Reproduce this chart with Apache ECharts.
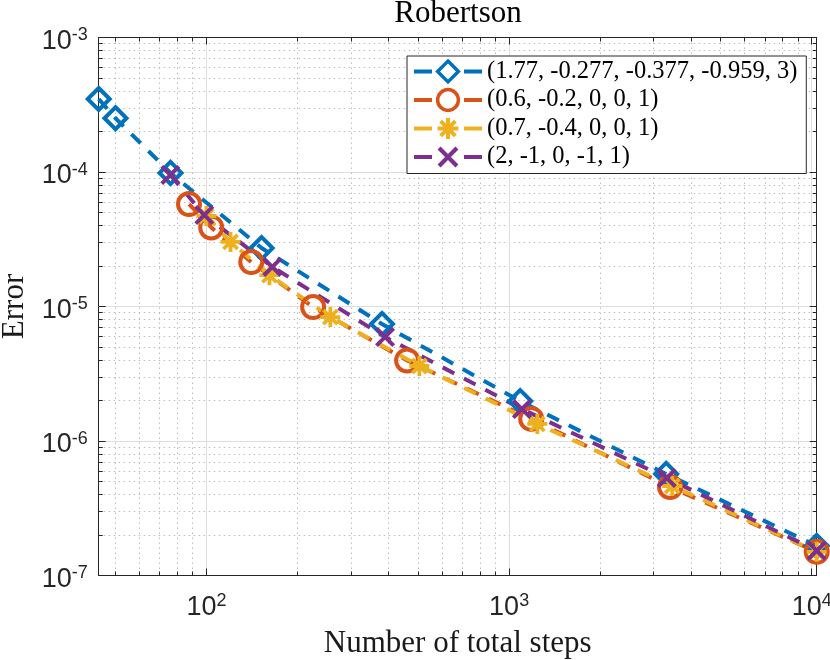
<!DOCTYPE html>
<html>
<head>
<meta charset="utf-8">
<title>Robertson</title>
<script src="https://cdn.jsdelivr.net/npm/echarts@6/dist/echarts.min.js"></script>
<style>
  html, body { margin: 0; padding: 0; background: #fff; }
  #main { width: 830px; height: 660px; }
</style>
</head>
<body>
<div id="main"></div>
<script>
// data
var stepsA = [44, 50, 76, 152, 380, 1088, 3304, 10390];
var errA   = [3.49e-4, 2.51e-4, 9.84e-5, 2.72e-5, 7.41e-6, 1.98e-6, 5.69e-7, 1.66e-7];
var stepsB = [87.5, 103.6, 140.5, 225, 460, 1183, 3404, 10390];
var errB   = [5.78e-5, 3.87e-5, 2.14e-5, 9.91e-6, 3.97e-6, 1.46e-6, 4.55e-7, 1.50e-7];
var stepsC = [99.8, 120, 161.4, 256.5, 505, 1239, 3460, 10390];
var errC   = [4.71e-5, 3.02e-5, 1.71e-5, 8.35e-6, 3.61e-6, 1.34e-6, 4.63e-7, 1.50e-7];
var stepsD = [75.9, 98.3, 164.9, 389, 1102, 3318, 10390];
var errD   = [9.5e-5, 4.79e-5, 1.97e-5, 5.93e-6, 1.73e-6, 5.31e-7, 1.53e-7];

var names = ['(1.77, -0.277, -0.377, -0.959, 3)', '(0.6, -0.2, 0, 0, 1)',
             '(0.7, -0.4, 0, 0, 1)', '(2, -1, 0, -1, 1)'];
var xMajor = [100, 1000, 10000];
var yMajor = [1e-7, 1e-6, 1e-5, 1e-4, 1e-3];
var xRange = [44, 10390];
var yRange = [1e-7, 1e-3];

(function(){
    var myChart = echarts.init(document.getElementById('main'));

    var colors = ['#0072BD', '#D95319', '#EDB120', '#7E2F8E'];
    var serif = "'Liberation Serif', 'Times New Roman', serif";
    var sans = "'Liberation Sans', Arial, sans-serif";
    var axisColor = '#262626';

    // MATLAB style asterisk and cross markers
    var asterisk = 'path://M8.1,0H11.9V20H8.1Z M0,8.1H20V11.9H0Z' +
        ' M4.27,1.6L18.4,15.73L15.73,18.4L1.6,4.27Z' +
        ' M15.73,1.6L18.4,4.27L4.27,18.4L1.6,15.73Z';
    var cross = 'path://M2.91,0.09L19.91,17.09L17.09,19.91L0.09,2.91Z' +
        ' M17.09,0.09L19.91,2.91L2.91,19.91L0.09,17.09Z';

    // minor ticks at 2..9 x 10^k inside the range
    function minorTicks(lo, hi){
        var out = [];
        for (var e = Math.floor(Math.log10(lo)); e < Math.ceil(Math.log10(hi)); e++) {
            for (var k = 2; k <= 9; k++) {
                var v = k * Math.pow(10, e);
                if (v > lo && v < hi) out.push(v);
            }
        }
        return out;
    }
    function pts(xs, ys){
        return xs.map(function(x, i){ return [x, ys[i]]; });
    }
    function powLabel(v){
        return '{b|10}{s|' + Math.round(Math.log10(v)) + '}';
    }
    var rich = {
        b: { fontFamily: sans, fontSize: 27, lineHeight: 30, color: axisColor },
        s: { fontFamily: sans, fontSize: 18, lineHeight: 14, verticalAlign: 'top', color: axisColor }
    };

    var xMinor = minorTicks(xRange[0], xRange[1]);
    var yMinor = minorTicks(yRange[0], yRange[1]);

    function xAxisDef(grid, pos, ticks, len, labels, split){
        return {
            type: 'log', gridIndex: grid, position: pos,
            min: xRange[0], max: xRange[1],
            axisLine: { show: grid === 0, onZero: false, lineStyle: { color: axisColor, width: 1 } },
            axisTick: { show: true, inside: true, length: len, customValues: ticks,
                        lineStyle: { color: axisColor, width: 1 } },
            axisLabel: labels ? { show: true, customValues: xMajor, formatter: powLabel, rich: rich, margin: 17 }
                              : { show: false },
            splitLine: split || { show: false },
            name: labels ? 'Number of total steps' : '',
            nameLocation: 'middle', nameGap: 53,
            nameTextStyle: { fontFamily: serif, fontSize: 31, color: '#1a1a1a' }
        };
    }
    function yAxisDef(grid, pos, ticks, len, labels, split){
        return {
            type: 'log', gridIndex: grid, position: pos,
            min: yRange[0], max: yRange[1],
            axisLine: { show: grid === 0, onZero: false, lineStyle: { color: axisColor, width: 1 } },
            axisTick: { show: true, inside: true, length: len, customValues: ticks,
                        lineStyle: { color: axisColor, width: 1 } },
            axisLabel: labels ? { show: true, customValues: yMajor, formatter: powLabel, rich: rich,
                                  margin: 11, padding: [8, 0, 0, 0] }
                              : { show: false },
            splitLine: split || { show: false },
            name: labels ? 'Error' : '',
            nameLocation: 'middle', nameGap: 68,
            nameTextStyle: { fontFamily: serif, fontSize: 31, color: '#1a1a1a' }
        };
    }

    var majorGrid = { show: true, lineStyle: { color: '#dedede', width: 1, type: 'solid' } };
    var minorGrid = { show: true, lineStyle: { color: '#bdbdbd', width: 1, type: [1.5, 3.5] } };
    var box = { left: 98.7, right: 13.3, top: 37.5, bottom: 84.5, show: false,
                containLabel: false, outerBoundsMode: 'none' };

    var symbols = ['diamond', 'circle', asterisk, cross];
    var sizes = [22, 22, 20, 20];
    var data = [pts(stepsA, errA), pts(stepsB, errB), pts(stepsC, errC), pts(stepsD, errD)];

    var series = names.map(function(n, i){
        var hollow = i < 2;
        return {
            name: n, type: 'line', xAxisIndex: 0, yAxisIndex: 0,
            data: data[i],
            symbol: symbols[i], symbolSize: sizes[i],
            lineStyle: { color: colors[i], width: 4, type: [13, 11] },
            itemStyle: hollow ? { color: 'rgba(0,0,0,0)', borderColor: colors[i], borderWidth: 4 }
                              : { color: colors[i], borderWidth: 0 },
            emphasis: { disabled: true },
            silent: true
        };
    });

    var option = {
        animation: false,
        backgroundColor: '#fff',
        title: {
            text: 'Robertson', left: 458, top: -2, textAlign: 'center', padding: 0,
            textStyle: { fontFamily: serif, fontSize: 31, fontWeight: 'normal', color: '#000' }
        },
        legend: {
            orient: 'vertical', left: 407, top: 56,
            padding: [3, 9, 4, 5],
            itemWidth: 68, itemHeight: 26, itemGap: 3.5,
            backgroundColor: '#fff', borderColor: axisColor, borderWidth: 1, borderRadius: 0,
            textStyle: { fontFamily: serif, fontSize: 24.5, color: '#000' },
            lineStyle: { width: 4, type: [18, 32, 18] },
            data: names.map(function(n, i){
                return i < 2 ? { name: n, itemStyle: { borderWidth: 3.5 } } : { name: n };
            }),
            selectedMode: false
        },
        grid: [box, box],
        xAxis: [
            xAxisDef(0, 'bottom', xMajor, 7, true, majorGrid),
            xAxisDef(0, 'top', xMajor, 7, false),
            xAxisDef(1, 'bottom', xMinor, 4, false, minorGrid),
            xAxisDef(1, 'top', xMinor, 4, false)
        ],
        yAxis: [
            yAxisDef(0, 'left', yMajor, 7, true, majorGrid),
            yAxisDef(0, 'right', yMajor, 7, false),
            yAxisDef(1, 'left', yMinor, 4, false, minorGrid),
            yAxisDef(1, 'right', yMinor, 4, false)
        ],
        series: series
    };
    myChart.setOption(option);
})();
</script>
</body>
</html>
